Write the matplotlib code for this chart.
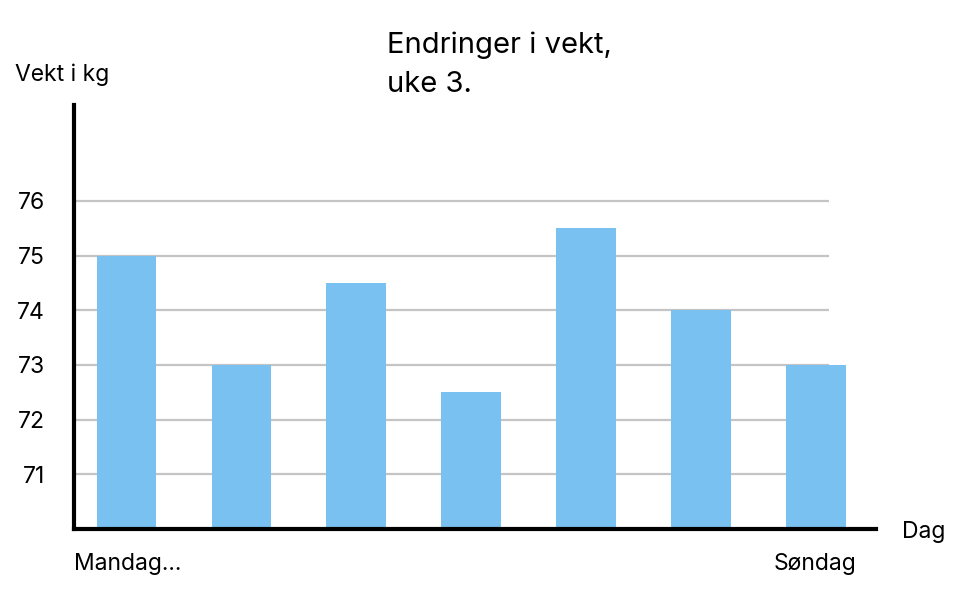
import matplotlib.pyplot as plt

plt.rcParams['font.family'] = ['Inter', 'DejaVu Sans']

# data
days = ['Mandag', 'Tirsdag', 'Onsdag', 'Torsdag', 'Fredag', 'Lørdag', 'Søndag']
weights = [75.0, 73.0, 74.5, 72.5, 75.5, 74.0, 73.0]
y_ticks = [71, 72, 73, 74, 75, 76]

W, H = 973, 592
fig = plt.figure(figsize=(W / 100, H / 100), dpi=100)

# axes box in pixels: left 74, right 876, top 105, bottom 529
ax = fig.add_axes([74 / W, (H - 529) / H, (876 - 74) / W, (529 - 105) / H])

x = list(range(len(days)))
ax.set_xlim(-0.457, 6.523)
ax.set_ylim(70, 77.755)

# grey grid lines that stop short of the last bar
ax.hlines(y_ticks, -0.44, 6.114, color='#c4c4c4', linewidth=1.6, zorder=1)
ax.bar(x, weights, width=0.52, bottom=0, color='#78c1f0', zorder=2)

for s in ['top', 'right']:
    ax.spines[s].set_visible(False)
for s in ['left', 'bottom']:
    ax.spines[s].set_linewidth(3)
    ax.spines[s].set_color('black')
    ax.spines[s].set_zorder(3)

ax.set_xticks([])
ax.set_yticks(y_ticks)
ax.set_yticklabels([str(t) for t in y_ticks], fontsize=16.5)
ax.tick_params(axis='y', length=0, pad=21)

def px(xp, yp):
    return xp / W, 1 - yp / H

fig.text(*px(387, 53), 'Endringer i vekt,', fontsize=21, va='baseline', ha='left')
fig.text(*px(387, 92), 'uke 3.', fontsize=21, va='baseline', ha='left')
fig.text(*px(15, 81), 'Vekt i kg', fontsize=16.5, va='baseline', ha='left')
fig.text(*px(902, 538), 'Dag', fontsize=16.5, va='baseline', ha='left')
fig.text(*px(74, 570), days[0] + '...', fontsize=16.5, va='baseline', ha='left')
fig.text(*px(856, 570), days[-1], fontsize=16.5, va='baseline', ha='right')

fig.savefig('out.png', dpi=100)
